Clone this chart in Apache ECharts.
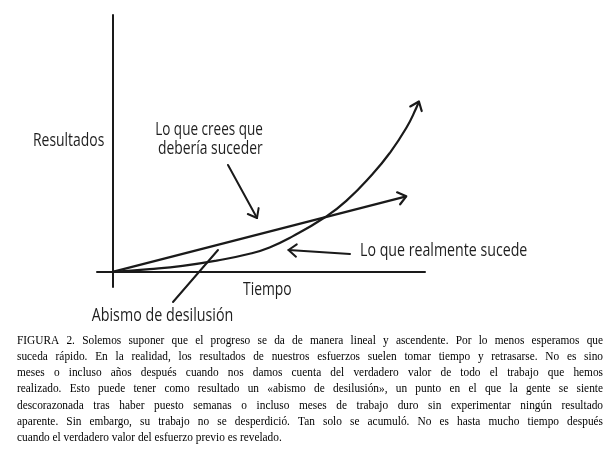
<!DOCTYPE html>
<html><head><meta charset="utf-8">
<script src="https://cdn.jsdelivr.net/npm/echarts@6/dist/echarts.min.js"></script>
<style>html,body{margin:0;padding:0;background:#fff}#c{width:611px;height:450px}</style>
</head><body><div id="c"></div>
<script>
// ---- data ----
const timeExpected = [0, 18.8];
const resultExpected = [0, 5.0];
const timeActual = [0, 2.37, 4.48, 6.66, 8.77, 10.05, 11.52, 13.57, 14.96, 16.66, 17.73, 18.80, 19.44, 19.61];
const resultActual = [0, 0.18, 0.40, 0.75, 1.2, 1.62, 2.35, 3.6, 4.7, 6.5, 7.85, 9.52, 10.84, 11.28];
const axisNameX = 'Tiempo';
const axisNameY = 'Resultados';
const labelExpected = ['Lo que crees que', 'debería suceder'];
const labelActual = 'Lo que realmente sucede';
const labelGap = 'Abismo de desilusión';
const captionLines = [
  'FIGURA 2. Solemos suponer que el progreso se da de manera lineal y ascendente. Por lo menos esperamos que',
  'suceda rápido. En la realidad, los resultados de nuestros esfuerzos suelen tomar tiempo y retrasarse. No es sino',
  'meses o incluso años después cuando nos damos cuenta del verdadero valor de todo el trabajo que hemos',
  'realizado. Esto puede tener como resultado un «abismo de desilusión», un punto en el que la gente se siente',
  'descorazonada tras haber puesto semanas o incluso meses de trabajo duro sin experimentar ningún resultado',
  'aparente. Sin embargo, su trabajo no se desperdició. Tan solo se acumuló. No es hasta mucho tiempo después',
  'cuando el verdadero valor del esfuerzo previo es revelado.'
];

// ---- styles / layout ----
const INK = '#1a1a1a';
const LABEL_FONT = '18px "Open Sans", "Noto Sans", sans-serif';
const CAP_FONT = '12px "Liberation Serif", "DejaVu Serif", serif';
const CAP_SCALE = 0.945;
const CAP_LEFT = 17, CAP_RIGHT = 603, CAP_Y0 = 341, CAP_LH = 16.1;

const chart = echarts.init(document.getElementById('c'), null, {renderer: 'canvas'});
const axisCommon = {
  type: 'value',
  axisLine: {show: true, onZero: true, lineStyle: {color: INK, width: 2}},
  axisTick: {show: false}, axisLabel: {show: false}, splitLine: {show: false}
};
chart.setOption({
  animation: false,
  grid: {left: 97, top: 15, width: 328, height: 272, containLabel: false},
  xAxis: Object.assign({min: -1, max: 20}, axisCommon),
  yAxis: Object.assign({min: -1, max: 17}, axisCommon),
  series: [
    {type: 'line', data: timeExpected.map((t, i) => [t, resultExpected[i]]), showSymbol: false,
     lineStyle: {color: INK, width: 2.2}, silent: true},
    {type: 'line', data: timeActual.map((t, i) => [t, resultActual[i]]), showSymbol: false,
     smooth: true,
     lineStyle: {color: INK, width: 2.2}, silent: true}
  ]
});

function chevron(tip, from, len, half) {
  const dx = from[0] - tip[0], dy = from[1] - tip[1];
  const a = Math.atan2(dy, dx), h = half * Math.PI / 180;
  return [[tip[0] + len * Math.cos(a + h), tip[1] + len * Math.sin(a + h)], tip,
          [tip[0] + len * Math.cos(a - h), tip[1] + len * Math.sin(a - h)]];
}
const graphics = [];
function addLine(p1, p2, w) {
  graphics.push({type: 'line', silent: true, shape: {x1: p1[0], y1: p1[1], x2: p2[0], y2: p2[1]},
    style: {stroke: INK, lineWidth: w || 2, lineCap: 'round'}});
}
function addHead(tip, from, w) {
  graphics.push({type: 'polyline', silent: true, shape: {points: chevron(tip, from, 10, 38)},
    style: {stroke: INK, lineWidth: w || 2.2, fill: null, lineCap: 'round', lineJoin: 'round'}});
}
// arrowheads at the ends of the data series
[[timeExpected, resultExpected, 0], [timeActual, resultActual, 1]].forEach(([xs, ys, si]) => {
  const n = xs.length;
  const tip = chart.convertToPixel({seriesIndex: si}, [xs[n - 1], ys[n - 1]]);
  const prev = chart.convertToPixel({seriesIndex: si}, [xs[n - 2] + (xs[n-1]-xs[n-2])*0.5, ys[n - 2] + (ys[n-1]-ys[n-2])*0.5]);
  addHead(tip, prev);
});
// annotation pointers
addLine([228, 165], [257, 218]); addHead([257, 218], [228, 165], 2);
addLine([350, 254], [288.5, 250]); addHead([288.5, 250], [350, 254], 2);
addLine([173, 302], [218, 250]);

const ctx = document.createElement('canvas').getContext('2d');
function addText(txt, x, y, align, font, fill, sx) {
  graphics.push({type: 'text', silent: true, x: x, y: y, scaleX: sx || 1,
    style: {text: txt, font: font, fill: fill || INK, align: align, verticalAlign: 'middle'}});
}
// condensed labels: squeeze to the widths seen in the picture
function addLabel(txt, x, y, align, width) {
  ctx.font = LABEL_FONT;
  addText(txt, x, y, align, LABEL_FONT, '#1e1e1e', width / ctx.measureText(txt).width);
}
addLabel(axisNameY, 33, 141, 'left', 71.3);
addLabel(axisNameX, 243, 290, 'left', 48.7);
addLabel(labelExpected[0], 209, 130, 'center', 107.7);
addLabel(labelExpected[1], 210.3, 149, 'center', 104.7);
addLabel(labelActual, 360, 251, 'left', 167.3);
addLabel(labelGap, 91.7, 316, 'left', 141.6);

// justified caption
ctx.font = CAP_FONT;
captionLines.forEach((line, li) => {
  const y = CAP_Y0 + li * CAP_LH;
  const words = line.split(' ');
  const widths = words.map(w => ctx.measureText(w).width * CAP_SCALE);
  const total = widths.reduce((a, b) => a + b, 0);
  const last = li === captionLines.length - 1;
  const gap = last ? ctx.measureText(' ').width * CAP_SCALE : (CAP_RIGHT - CAP_LEFT - total) / (words.length - 1);
  let x = CAP_LEFT;
  words.forEach((w, wi) => { addText(w, x, y, 'left', CAP_FONT, '#000', CAP_SCALE); x += widths[wi] + gap; });
});
chart.setOption({graphic: graphics});
</script></body></html>
